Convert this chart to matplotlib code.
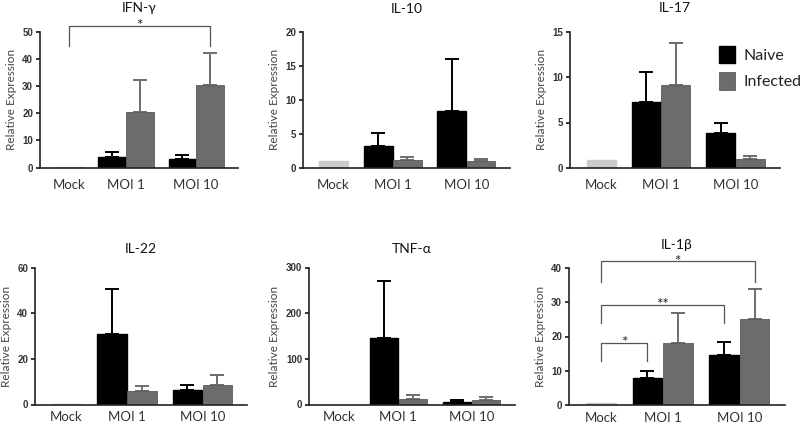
import matplotlib
matplotlib.use("Agg")
import matplotlib.pyplot as plt
import numpy as np

plt.rcParams['font.family'] = ['Lato', 'DejaVu Sans']

titles = ["IFN-γ", "IL-10", "IL-17", "IL-22", "TNF-α", "IL-1β"]
groups = ["Mock", "MOI 1", "MOI 10"]
ymax = [50, 20, 15, 60, 300, 40]
yticks_step = [10, 5, 5, 20, 100, 10]

mock_mean = [0.3, 1.0, 0.9, 0.3, 0.0, 0.5]
naive_mean = [[4.0, 3.3], [3.2, 8.4], [7.3, 3.8], [31.0, 6.2], [145.0, 5.0], [8.0, 14.6]]
naive_err = [[1.7, 1.2], [2.0, 7.6], [3.2, 1.1], [19.5, 2.3], [125.0, 5.0], [2.0, 3.9]]
infected_mean = [[20.5, 30.5], [1.2, 1.0], [9.1, 1.0], [5.7, 8.7], [12.0, 9.0], [18.0, 25.2]]
infected_err = [[11.5, 11.5], [0.4, 0.3], [4.6, 0.3], [2.6, 4.3], [8.0, 7.0], [9.0, 8.8]]

# significance brackets: (panel, start bar, end bar, top, leg bottom, label)
brackets = [
    (0, "mock", "inf10", 51.9, 44.8, "*"),
    (5, "mock", "nai1", 18.2, 12.9, "*"),
    (5, "mock", "nai10", 29.2, 23.9, "**"),
    (5, "mock", "inf10", 41.9, 36.0, "*"),
]

legend_labels = ["Naive", "Infected"]

C_NAIVE = "#000000"
C_INF = "#6c6c6c"
C_MOCK = "#cbcbcb"

W, H = 800, 424
fig = plt.figure(figsize=(W / 100, H / 100), dpi=100)

# axes rectangles in pixels: left, right, top, bottom
rects = [
    (40, 238, 31.5, 167.5),
    (303, 510, 31.5, 168),
    (570, 780, 31.5, 168),
    (35, 247, 267.5, 404.5),
    (309, 515, 267.5, 404.5),
    (569, 785, 268, 405),
]
title_pads = [14, 13, 14, 10.5, 10.5, 14]
xlabel_pads = [8, 8, 8, 5, 5, 5]

pos = {"mock": 1.05, "nai1": 2.58, "inf1": 3.58, "nai10": 5.1, "inf10": 6.1}
bw = 0.98

for i, t in enumerate(titles):
    l, r, tp, bt = rects[i]
    ax = fig.add_axes([l / W, 1 - bt / H, (r - l) / W, (bt - tp) / H])
    ax.bar(pos["mock"], mock_mean[i], bw, color=C_MOCK, edgecolor=C_MOCK, zorder=2)
    xs_n = [pos["nai1"], pos["nai10"]]
    xs_i = [pos["inf1"], pos["inf10"]]
    ax.bar(xs_n, naive_mean[i], bw, color=C_NAIVE, edgecolor=C_NAIVE, zorder=2,
           label=legend_labels[0])
    ax.bar(xs_i, infected_mean[i], bw, color=C_INF, edgecolor="#5a5a5a", linewidth=0.6,
           zorder=2, label=legend_labels[1])
    ax.errorbar(xs_n, naive_mean[i], yerr=[np.zeros(2), naive_err[i]], fmt="none",
                ecolor=C_NAIVE, elinewidth=1.4, capsize=5, capthick=1.4, zorder=1)
    ax.errorbar(xs_i, infected_mean[i], yerr=[np.zeros(2), infected_err[i]], fmt="none",
                ecolor=C_INF, elinewidth=1.4, capsize=5, capthick=1.4, zorder=1)
    ax.set_xlim(0, 7.1)
    ax.set_ylim(0, ymax[i])
    ax.set_yticks(np.arange(0, ymax[i] + 0.1, yticks_step[i]))
    ax.set_xticks([pos["mock"], (pos["nai1"] + pos["inf1"]) / 2, (pos["nai10"] + pos["inf10"]) / 2])
    ax.set_xticklabels(groups, fontsize=9.5, color="#333333")
    ax.tick_params(axis="x", length=0, pad=xlabel_pads[i])
    ax.tick_params(axis="y", length=3, width=1.1, pad=2, labelsize=7, labelcolor="#333333")
    for lab in ax.get_yticklabels():
        lab.set_fontweight("bold")
        lab.set_family(["Liberation Sans", "DejaVu Sans"])
    for s in ["top", "right"]:
        ax.spines[s].set_visible(False)
    for s in ["left", "bottom"]:
        ax.spines[s].set_linewidth(1.2)
        ax.spines[s].set_color("#222222")
    ax.set_ylabel("Relative Expression", fontsize=8.5, color="#444444", labelpad=4)
    ax.set_title(t, fontsize=10, color="#111111", pad=title_pads[i])

    for (pi, a, b, top, leg, lab) in brackets:
        if pi != i:
            continue
        xa, xb = pos[a], pos[b]
        ax.plot([xa, xa, xb, xb], [leg, top, top, leg], color="#555555", lw=0.9,
                clip_on=False, zorder=3)
        ax.annotate(lab, xy=((xa + xb) / 2, top), xytext=(0, -3), textcoords="offset points",
                    ha="center", va="baseline", fontsize=11, color="#222222",
                    annotation_clip=False)

    if i == 2:
        leg_ = ax.legend(loc="upper left", bbox_to_anchor=(0.68, 0.94), frameon=False,
                         fontsize=11.5, handlelength=1.0, handleheight=1.3,
                         handletextpad=0.5, labelspacing=0.55, borderaxespad=0)
        for txt in leg_.get_texts():
            txt.set_color("#222222")

fig.savefig("out.png", dpi=100)
